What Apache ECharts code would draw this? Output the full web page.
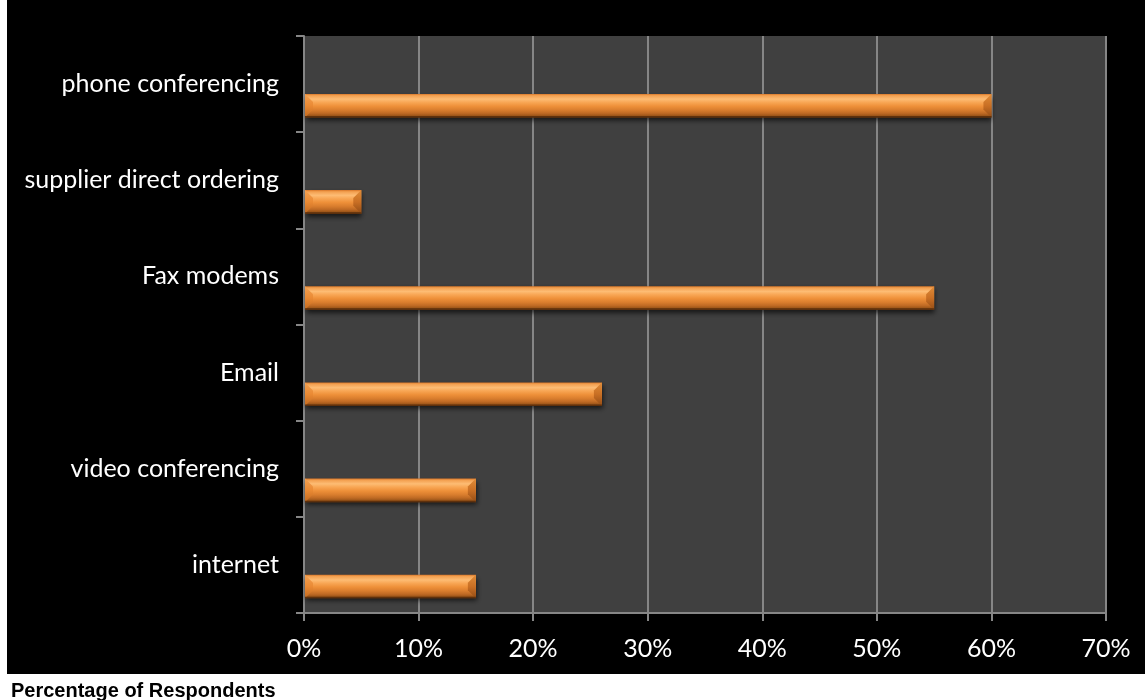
<!DOCTYPE html>
<html>
<head>
<meta charset="utf-8">
<script src="https://cdn.jsdelivr.net/npm/echarts@6/dist/echarts.min.js"></script>
<style>
  html, body { margin: 0; padding: 0; background: #ffffff; }
  #stage { position: relative; width: 1145px; height: 700px; background: #ffffff; }
  #panel { position: absolute; left: 7px; top: 0; width: 1138px; height: 674px; background: #000000; }
  #chart { position: absolute; left: 0; top: 0; width: 1145px; height: 700px; }
</style>
</head>
<body>
<div id="stage">
  <div id="panel"></div>
  <div id="chart"></div>
</div>
<script>
// Communication channels, listed top to bottom
const categories = [
  'phone conferencing',
  'supplier direct ordering',
  'Fax modems',
  'Email',
  'video conferencing',
  'internet'
];
// Share of respondents using each channel (%)
const shares = [60, 5, 55, 26, 15, 15];
const axisTitle = 'Percentage of Respondents';

const gridColor = '#868686';
const labelFont = 'Lato, "Open Sans", sans-serif';

// Bevelled orange bar: gradient body with shaded end caps and a soft drop shadow
function renderBevelBar(params, api) {
  const value = api.value(0);
  const idx = api.value(1);
  const start = api.coord([0, idx]);
  const end = api.coord([value, idx]);
  const band = api.size([0, 1])[1];
  const h = band * 0.245;
  const cy = start[1] + band * 0.225;
  const x0 = start[0] + 1, x1 = end[0];
  const y0 = cy - h / 2, y1 = cy + h / 2;
  const b = Math.min(8, (x1 - x0) / 3);

  const body = new echarts.graphic.LinearGradient(0, 0, 0, 1, [
    { offset: 0, color: '#D9782A' },
    { offset: 0.07, color: '#F3A050' },
    { offset: 0.22, color: '#FDBC74' },
    { offset: 0.36, color: '#F8A654' },
    { offset: 0.52, color: '#EE9039' },
    { offset: 0.68, color: '#DA7E2E' },
    { offset: 0.82, color: '#BF6A24' },
    { offset: 0.93, color: '#9A5418' },
    { offset: 1, color: '#6A3810' }
  ]);
  const leftCap = new echarts.graphic.LinearGradient(0, 0, 0, 1, [
    { offset: 0, color: '#F3A152' },
    { offset: 0.5, color: '#EA8A34' },
    { offset: 1, color: '#C2691F' }
  ]);
  const rightCap = new echarts.graphic.LinearGradient(0, 0, 0, 1, [
    { offset: 0, color: '#E08C38' },
    { offset: 0.5, color: '#C96F24' },
    { offset: 1, color: '#934C15' }
  ]);

  return {
    type: 'group',
    children: [
      {
        type: 'rect',
        shape: { x: x0, y: y0, width: x1 - x0, height: h },
        style: {
          fill: body,
          shadowBlur: 5,
          shadowOffsetY: 3,
          shadowOffsetX: 1,
          shadowColor: 'rgba(0,0,0,0.65)'
        }
      },
      {
        type: 'polygon',
        shape: { points: [[x0, y0], [x0 + b, y0 + b], [x0 + b, y1 - b], [x0, y1]] },
        style: { fill: leftCap }
      },
      {
        type: 'polygon',
        shape: { points: [[x1, y0], [x1 - b, y0 + b], [x1 - b, y1 - b], [x1, y1]] },
        style: { fill: rightCap }
      },
      {
        type: 'rect',
        shape: { x: x0, y: y1 - 1.5, width: x1 - x0, height: 1.5 },
        style: { fill: '#5E300C' }
      }
    ]
  };
}

const chart = echarts.init(document.getElementById('chart'), null, { renderer: 'canvas' });

chart.setOption({
  backgroundColor: 'transparent',
  animation: false,
  title: {
    text: axisTitle,
    left: 6,
    top: 676,
    textStyle: {
      fontFamily: '"Liberation Sans", Arial, sans-serif',
      fontWeight: 'bold',
      fontSize: 20,
      color: '#000000'
    }
  },
  grid: {
    left: 304,
    right: 39,
    top: 36,
    bottom: 87,
    show: true,
    backgroundColor: '#404040',
    borderWidth: 0
  },
  xAxis: {
    type: 'value',
    min: 0,
    max: 70,
    interval: 10,
    axisLine: { show: true, lineStyle: { color: gridColor, width: 2 } },
    axisTick: { show: true, length: 8, lineStyle: { color: gridColor, width: 2 } },
    splitLine: { show: true, lineStyle: { color: gridColor, width: 2 } },
    axisLabel: {
      color: '#ffffff',
      fontFamily: labelFont,
      fontSize: 25,
      margin: 23,
      formatter: v => v + '%'
    }
  },
  yAxis: {
    type: 'category',
    data: categories,
    inverse: true,
    axisLine: { show: true, lineStyle: { color: gridColor, width: 2 } },
    axisTick: { show: true, length: 8, alignWithLabel: false, lineStyle: { color: gridColor, width: 2 } },
    splitLine: { show: false },
    axisLabel: {
      color: '#ffffff',
      fontFamily: labelFont,
      fontSize: 25,
      margin: 25
    }
  },
  series: [
    {
      type: 'custom',
      renderItem: renderBevelBar,
      encode: { x: 0, y: 1 },
      data: shares.map((v, i) => [v, i]),
      clip: false
    }
  ]
});
</script>
</body>
</html>
